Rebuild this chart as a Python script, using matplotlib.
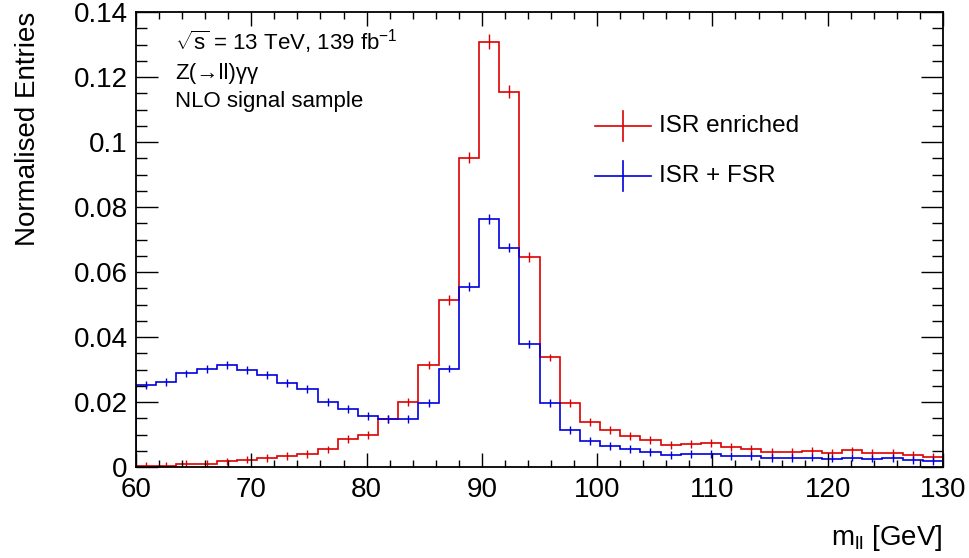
import numpy as np
import matplotlib.pyplot as plt
from matplotlib.ticker import MultipleLocator, FuncFormatter

plt.rcParams['font.family'] = ['Liberation Sans', 'DejaVu Sans']
plt.rcParams['mathtext.fontset'] = 'custom'
plt.rcParams['mathtext.rm'] = 'Liberation Sans'
plt.rcParams['mathtext.it'] = 'Liberation Sans'

# binning: 40 bins of 1.75 GeV between 60 and 130
BIN_LOW, BIN_HIGH, N_BINS = 60.0, 130.0, 40

isr_enriched = [0.0003, 0.0004, 0.0009, 0.0010, 0.0017, 0.0023, 0.0027, 0.0033,
                0.0041, 0.0054, 0.0086, 0.0099, 0.0148, 0.0199, 0.0315, 0.0514,
                0.0951, 0.1309, 0.1155, 0.0647, 0.0337, 0.0196, 0.0139, 0.0114,
                0.0095, 0.0083, 0.0067, 0.0070, 0.0073, 0.0061, 0.0056, 0.0047,
                0.0047, 0.0050, 0.0044, 0.0051, 0.0042, 0.0044, 0.0038, 0.0032]
isr_enriched_err = [0.0012] * 15 + [0.0014, 0.0017, 0.0022, 0.0020, 0.0016] + [0.0012] * 20

isr_fsr = [0.0252, 0.0261, 0.0288, 0.0301, 0.0315, 0.0298, 0.0284, 0.0258,
           0.0241, 0.0201, 0.0178, 0.0157, 0.0147, 0.0148, 0.0196, 0.0303,
           0.0555, 0.0764, 0.0675, 0.0379, 0.0196, 0.0114, 0.0081, 0.0065,
           0.0056, 0.0046, 0.0037, 0.0039, 0.0040, 0.0035, 0.0033, 0.0028,
           0.0028, 0.0029, 0.0026, 0.0029, 0.0026, 0.0027, 0.0022, 0.0019]
isr_fsr_err = [0.0012] * 16 + [0.0014, 0.0015, 0.0014] + [0.0012] * 21

RED = '#dd0000'
BLUE = '#0000dd'

edges = np.linspace(BIN_LOW, BIN_HIGH, N_BINS + 1)
centers = 0.5 * (edges[:-1] + edges[1:])

fig = plt.figure(figsize=(9.7, 5.58), dpi=100)
ax = fig.add_axes([136 / 970, 91 / 558, 807 / 970, 455 / 558])

for vals, errs, col in [(isr_enriched, isr_enriched_err, RED), (isr_fsr, isr_fsr_err, BLUE)]:
    ax.stairs(vals, edges, color=col, linewidth=1.2)
    ax.errorbar(centers, vals, yerr=errs, fmt='none', ecolor=col, elinewidth=1.0, capsize=0)

ax.set_xlim(BIN_LOW, BIN_HIGH)
ax.set_ylim(0, 0.14)

ax.xaxis.set_major_locator(MultipleLocator(10))
ax.xaxis.set_minor_locator(MultipleLocator(2))
ax.yaxis.set_major_locator(MultipleLocator(0.02))
ax.yaxis.set_minor_locator(MultipleLocator(0.005))
ax.yaxis.set_major_formatter(FuncFormatter(lambda v, p: f"{v:.2f}".rstrip('0').rstrip('.') if v else "0"))

ax.tick_params(axis='both', which='both', direction='in', top=True, right=True,
               labelsize=20, width=1.0)
ax.tick_params(axis='x', which='major', length=10, pad=7)
ax.tick_params(axis='x', which='minor', length=5)
ax.tick_params(axis='y', which='major', length=16, pad=6)
ax.tick_params(axis='y', which='minor', length=8)
for sp in ax.spines.values():
    sp.set_linewidth(1.3)

fig.text(942 / 970, 1 - 538 / 558, r"m$_{\mathrm{ll}}$ [GeV]", ha='right', va='center', fontsize=20)
fig.text(28 / 970, 1 - 12 / 558, "Normalised Entries", ha='center', va='top', rotation=90, fontsize=20)

# annotation block
def px(x, y):
    return (x - 136) / 807, (467 - y) / 455

ax.text(*px(175, 42), r"$\sqrt{\mathrm{s}}$ = 13 TeV, 139 fb$^{\mathrm{-1}}$", transform=ax.transAxes,
        fontsize=16, va='center', ha='left')
ax.text(*px(175, 73), "Z(\u2192ll)\u03b3\u03b3", transform=ax.transAxes, fontsize=16, va='center', ha='left')
ax.text(*px(175, 102), "NLO signal sample", transform=ax.transAxes, fontsize=16, va='center', ha='left')

# legend drawn by hand, ROOT style
for y, col, label in [(126, RED, "ISR enriched"), (176, BLUE, "ISR + FSR")]:
    x0, yy = px(595, y)
    x1, _ = px(651, y)
    xm, _ = px(623, y)
    _, ylo = px(623, y + 15)
    _, yhi = px(623, y - 15)
    ax.plot([x0, x1], [yy, yy], color=col, linewidth=1.2, transform=ax.transAxes)
    ax.plot([xm, xm], [ylo, yhi], color=col, linewidth=1.2, transform=ax.transAxes)
    ax.text(*px(659, y), label, transform=ax.transAxes, fontsize=17.5, va='center', ha='left')

fig.savefig("out.png", dpi=100)
